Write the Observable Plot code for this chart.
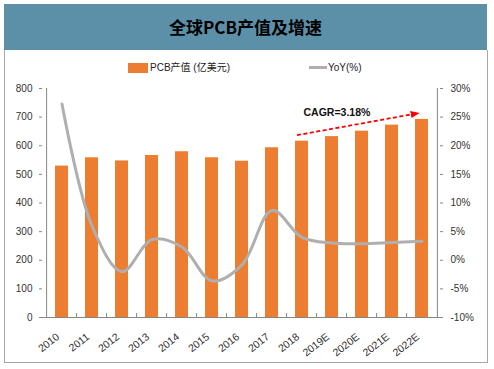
<!DOCTYPE html>
<html>
<head>
<meta charset="utf-8">
<script src="https://cdn.jsdelivr.net/npm/d3@7"></script>
<script src="https://cdn.jsdelivr.net/npm/@observablehq/plot@0.6"></script>
<style>
  html, body { margin: 0; padding: 0; background: #fff; }
  #wrap { position: relative; width: 494px; height: 369px; overflow: hidden; font-family: "Liberation Sans", Arial, "Noto Sans CJK SC", sans-serif; }
  #banner { position: absolute; left: 4px; top: 4px; width: 483px; height: 46px; background: #5B90A8; }
  #title { position: absolute; left: 4px; top: 4px; width: 483px; height: 46px; line-height: 46px; text-align: center;
           font-family: "Noto Sans CJK SC", sans-serif; font-weight: bold; font-size: 17px; color: #000; }
  #panel { position: absolute; left: 4px; top: 50px; width: 482px; height: 312px; border: 1px solid #A6A6A6; border-top: none; }
  #chart { position: absolute; left: 0; top: 50px; }
  .leg { position: absolute; font-size: 10px; color: #222; white-space: nowrap; line-height: 12px; }
</style>
</head>
<body>
<div id="wrap">
  <div id="banner"></div>
  <div id="title">全球PCB产值及增速</div>
  <div id="panel"></div>
  <div id="chart"></div>
  <div class="leg" style="left:128px;top:63px;width:20px;height:10px;background:#ED7D31;"></div>
  <div class="leg" id="leg1" style="left:150px;top:62px;">PCB产值 (亿美元)</div>
  <div class="leg" style="left:309px;top:66px;width:18px;height:3px;background:#AFAFAF;"></div>
  <div class="leg" id="leg2" style="left:328px;top:62px;">YoY(%)</div>
</div>
<script>
const categories = ["2010","2011","2012","2013","2014","2015","2016","2017","2018","2019E","2020E","2021E","2022E"];
const pcbValues = [529, 558, 547, 566, 579, 558, 546, 593, 616, 632, 651, 672, 692];
const yoyValues = [27.3, 6.0, -2.0, 3.6, 2.3, -3.6, -0.8, 8.7, 4.0, 3.0, 2.9, 3.1, 3.3];
const leftTicks = [0, 100, 200, 300, 400, 500, 600, 700, 800];
const rightTicks = [-10, -5, 0, 5, 10, 15, 20, 25, 30];
const cagrLabel = "CAGR=3.18%";
const cagrFrom = "2018";
const cagrTo = "2022E";

const data = categories.map((c, i) => ({year: c, value: pcbValues[i], yoy: yoyValues[i]}));
const byYear = new Map(data.map(d => [d.year, d]));

// map YoY (%) onto the left scale domain [0, 800]
const yoyMin = -10, yoyMax = 30, leftMax = 800;
const yoyToY = v => (v - yoyMin) / (yoyMax - yoyMin) * leftMax;
const yToYoy = y => y / leftMax * (yoyMax - yoyMin) + yoyMin;

const width = 494, height = 313;
const marginLeft = 42, marginRight = 52, marginTop = 38, marginBottom = 46;
const step = (width - marginLeft - marginRight) / categories.length;
const plotH = height - marginTop - marginBottom;
const innerTick = 4 * leftMax / plotH; // 4px expressed in y units

const arrowMarker = (color) => {
  const m = d3.create("svg:marker")
    .attr("viewBox", "-5 -5 10 10")
    .attr("markerWidth", 9)
    .attr("markerHeight", 9)
    .attr("markerUnits", "userSpaceOnUse")
    .attr("refX", 2)
    .attr("refY", 0)
    .attr("orient", "auto");
  m.append("path").attr("d", "M-5,-4L5,0L-5,4Z").attr("fill", color).attr("stroke", "none");
  return m.node();
};

const axisColor = "#868686";
const textColor = "#333";

const chart = Plot.plot({
  width, height, marginLeft, marginRight, marginTop, marginBottom,
  style: {fontFamily: "'Liberation Sans', Arial, sans-serif", fontSize: "10px", color: textColor, background: "transparent"},
  x: {type: "band", domain: categories, paddingInner: 0.55, paddingOuter: 0.275, axis: null, label: null},
  y: {type: "linear", domain: [0, leftMax], axis: null, label: null},
  marks: [
    Plot.barY(data, {x: "year", y: "value", fill: "#ED7D31"}),
    Plot.line(data, {x: "year", y: d => yoyToY(d.yoy), curve: "catmull-rom", stroke: "#AFAFAF", strokeWidth: 3}),
    // axis lines
    Plot.ruleY([0], {stroke: axisColor}),
    Plot.ruleX([categories[0]], {x: d => d, dx: -step / 2, y1: 0, y2: leftMax, stroke: axisColor}),
    Plot.ruleX([categories[categories.length - 1]], {x: d => d, dx: step / 2, y1: 0, y2: leftMax, stroke: axisColor}),
    // category boundary ticks (inside)
    Plot.ruleX(categories.slice(1), {x: d => d, dx: -step / 2, y1: 0, y2: innerTick, stroke: axisColor}),
    Plot.axisY(leftTicks, {anchor: "left", label: null, tickSize: 3, tickPadding: 7, stroke: axisColor, fill: textColor, fontSize: 10}),
    Plot.axisY(rightTicks.map(yoyToY), {anchor: "right", label: null, tickSize: -3, tickPadding: 11, stroke: axisColor, fill: textColor, fontSize: 10,
      tickFormat: d => `${Math.round(yToYoy(d))}%`}),
    Plot.axisX(categories, {anchor: "bottom", label: null, tickSize: 0, tickPadding: 14, tickRotate: -38, dx: -4, dy: 4, fill: textColor, fontSize: 10.5}),
    // CAGR annotation
    Plot.link([0], {
      x1: () => cagrFrom, y1: () => byYear.get(cagrFrom).value,
      x2: () => cagrTo, y2: () => byYear.get(cagrTo).value,
      dx: -5, dy: -6, stroke: "#FF0000", strokeWidth: 1.8, strokeDasharray: "4,2.5", markerEnd: arrowMarker
    }),
    Plot.text([cagrLabel], {x: () => cagrFrom, y: () => byYear.get(cagrFrom).value, text: d => d,
      dx: 1.5, dy: -29, textAnchor: "start", fontWeight: "bold", fontSize: 10.5, fill: "#111"})
  ]
});
document.getElementById("chart").appendChild(chart);
</script>
</body>
</html>
